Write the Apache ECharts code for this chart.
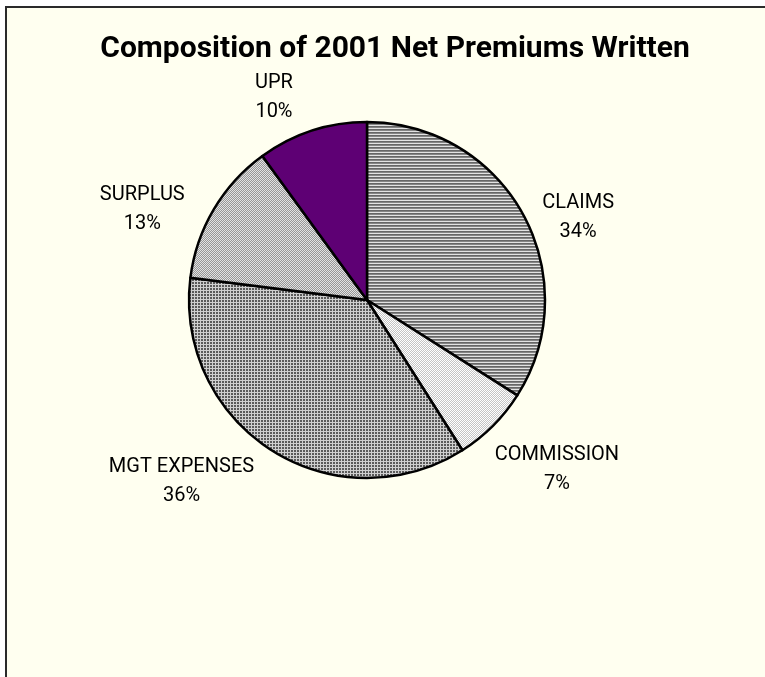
<!DOCTYPE html>
<html>
<head>
<meta charset="utf-8">
<title>Composition of 2001 Net Premiums Written</title>
<script src="https://cdn.jsdelivr.net/npm/echarts@6/dist/echarts.min.js"></script>
<style>
  html, body { margin: 0; padding: 0; background: #ffffff; overflow: hidden; }
  #chart { width: 790px; height: 700px; }
</style>
</head>
<body>
<div id="chart"></div>
<script>
// Shares of 2001 net premiums written, clockwise from twelve o'clock
const categories = ['CLAIMS', 'COMMISSION', 'MGT EXPENSES', 'SURPLUS', 'UPR'];
const shares = [34, 7, 36, 13, 10];
const chartTitle = 'Composition of 2001 Net Premiums Written';

// Fine adjustment of each label block relative to the rim rule, in px
const labelNudge = [[7, 38], [-8, 5], [-10, -10], [-17, 36], [-22, 9]];

// Small repeating tiles used as hatch fills for the grey slices
function tile(w, h, paint) {
  const c = document.createElement('canvas');
  c.width = w; c.height = h;
  const g = c.getContext('2d');
  for (let y = 0; y < h; y++) {
    for (let x = 0; x < w; x++) {
      g.fillStyle = paint(x, y);
      g.fillRect(x, y, 1, 1);
    }
  }
  return { image: c, repeat: 'repeat' };
}

const fills = [
  // horizontal rules
  tile(1, 3, (x, y) => ['#666666', '#858585', '#e2e2e2'][y]),
  // light stipple
  tile(2, 2, (x, y) => ((x + y) % 2 ? '#c4c4c4' : '#ffffff')),
  // dark grid
  tile(3, 3, (x, y) => (x === 2 || y === 2 ? '#cfcfcf' : '#5a5a5a')),
  // medium checker
  tile(2, 2, (x, y) => ((x + y) % 2 ? '#969696' : '#e2e2e2')),
  // solid purple
  '#5e0074'
];

const pieCenter = [367, 300];
const pieRadius = 178;
const total = shares.reduce((a, b) => a + b, 0);

// Mid-angle direction (unit vector, screen coords) of each slice
const midDirs = (() => {
  let acc = 0;
  return shares.map(v => {
    const mid = (acc + v / 2) / total * Math.PI * 2;
    acc += v;
    return [Math.sin(mid), -Math.cos(mid)];
  });
})();

const chart = echarts.init(document.getElementById('chart'), null, { renderer: 'canvas' });

const clamp = v => Math.max(-1, Math.min(1, v));

chart.setOption({
  animation: false,
  backgroundColor: '#ffffff',
  graphic: [{
    type: 'rect',
    z: -10,
    silent: true,
    shape: { x: 6, y: 7, width: 820, height: 720 },
    style: { fill: '#fffff0', stroke: '#2a2a2a', lineWidth: 2 }
  }],
  title: {
    text: chartTitle,
    left: 'center',
    top: 29,
    textStyle: {
      fontFamily: 'Roboto',
      fontWeight: 'bold',
      fontSize: 30,
      color: '#000000'
    }
  },
  series: [{
    type: 'pie',
    center: pieCenter,
    radius: pieRadius,
    startAngle: 90,
    clockwise: true,
    avoidLabelOverlap: false,
    silent: true,
    data: categories.map((name, i) => ({
      name,
      value: shares[i],
      itemStyle: { color: fills[i] }
    })),
    itemStyle: { borderColor: '#000000', borderWidth: 2.5 },
    label: {
      show: true,
      position: 'outside',
      formatter: '{b}\n{d}%',
      fontFamily: 'Roboto',
      fontSize: 20,
      lineHeight: 29,
      color: '#000000'
    },
    labelLine: { show: false },
    // Place each label block just outside the rim along its slice's mid-angle
    labelLayout: function (params) {
      const i = params.dataIndex;
      const d = midDirs[i];
      const w = params.labelRect.width;
      const h = params.labelRect.height;
      const reach = pieRadius + 14;
      const ax = pieCenter[0] + d[0] * reach;
      const ay = pieCenter[1] + d[1] * reach;
      return {
        x: ax + w / 2 * clamp(d[0] * 2) + labelNudge[i][0],
        y: ay + h / 2 * clamp(d[1] * 2) + labelNudge[i][1],
        align: 'center',
        verticalAlign: 'middle'
      };
    },
    emphasis: { disabled: true }
  }]
});
</script>
</body>
</html>
